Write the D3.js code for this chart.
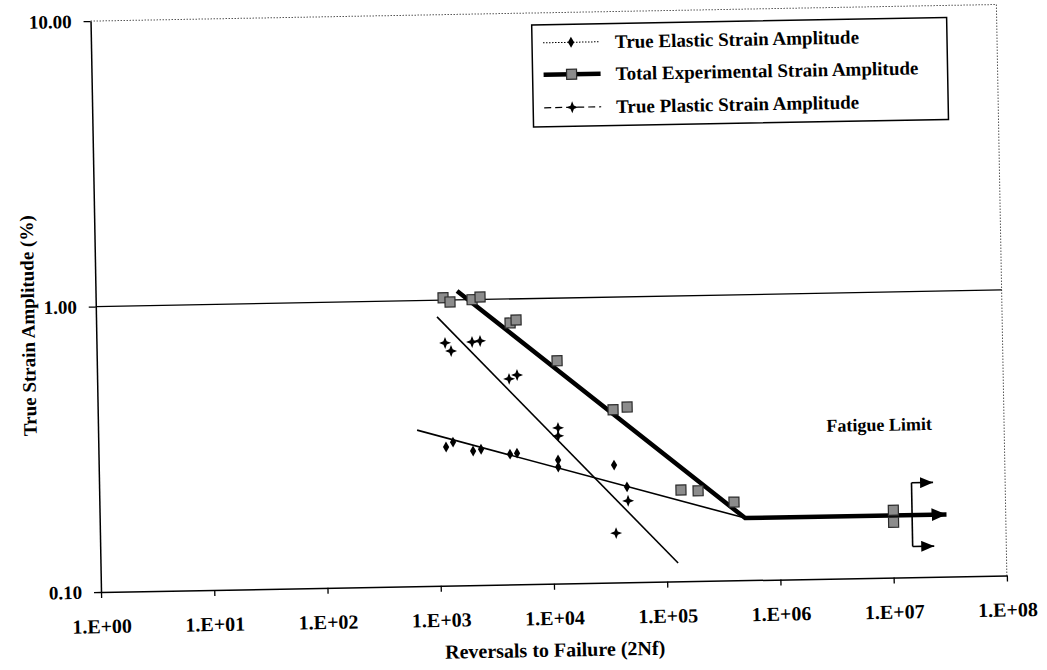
<!DOCTYPE html>
<html><head><meta charset="utf-8">
<script src="https://cdn.jsdelivr.net/npm/d3@7"></script>
<style>body{margin:0;background:#fff}svg{display:block}
svg text{font-family:"Liberation Serif","Times New Roman",Times,"DejaVu Serif","Noto Serif",serif !important;font-weight:bold;fill:#000}</style>
</head><body>
<svg id="c" width="1047" height="670"></svg>
<script>
// ---- data ----
const xTickValues = [1, 10, 100, 1e3, 1e4, 1e5, 1e6, 1e7, 1e8];
const xTickLabels = ["1.E+00","1.E+01","1.E+02","1.E+03","1.E+04","1.E+05","1.E+06","1.E+07","1.E+08"];
const yTickValues = [0.1, 1, 10];
const yTickLabels = ["0.10","1.00","10.00"];

const seriesNames = ["True Elastic Strain Amplitude","Total Experimental Strain Amplitude","True Plastic Strain Amplitude"];

const totalN = [1168,1343,2103,2478,4518,5110,11580,35500,47300,137000,194000,401000,1.02e7,1.02e7];
const totalS = [1.02,0.985,1.0,1.02,0.824,0.843,0.603,0.403,0.411,0.209,0.207,0.188,0.172,0.156];

const elasticN = [1175,1356,2032,2390,4300,4960,11400,11400,35500,45800];
const elasticS = [0.306,0.318,0.295,0.299,0.286,0.288,0.271,0.256,0.258,0.216];

const plasticN = [1197,1348,2073,2440,4340,5110,11530,11530,36100,46600];
const plasticS = [0.708,0.663,0.711,0.716,0.525,0.541,0.351,0.329,0.149,0.193];

const totalFitN = [1556, 5.0e5, 3.0e7];
const totalFitS = [1.075, 0.165, 0.165];
const elasticFitN = [656, 5.0e5];
const elasticFitS = [0.352, 0.165];
const plasticFitN = [1026, 125900];
const plasticFitS = [0.875, 0.116];

const runoutBracketN = 1.49e7;
const runoutArrowTipN = 2.31e7;
const runoutS = [0.214, 0.128];
const fatigueLabel = {text:"Fatigue Limit", n:7.9e6, s:0.343};

// ---- layout ----
const W = 906, H = 571;
const svg = d3.select("#c");
const defs = svg.append("defs");
function arrowMarker(id, len, wid){
  defs.append("marker").attr("id",id).attr("markerUnits","userSpaceOnUse")
    .attr("viewBox",`0 0 ${len} ${wid}`).attr("refX",len).attr("refY",wid/2)
    .attr("markerWidth",len).attr("markerHeight",wid).attr("orient","auto")
    .append("path").attr("d",`M0,0L${len},${wid/2}L0,${wid}Z`).attr("fill","#000");
}
arrowMarker("arrBig",15,13);
arrowMarker("arrSm",13,11);

const g = svg.append("g").attr("transform","rotate(-1.05,101,592) translate(101,21)");
const x = d3.scaleLog().domain([1,1e8]).range([0,W]);
const y = d3.scaleLog().domain([0.1,10]).range([H,0]);

// borders
g.append("line").attr("x1",0).attr("x2",W).attr("y1",0).attr("y2",0)
  .attr("stroke","#555").attr("stroke-width",1).attr("stroke-dasharray","1.5,1.5");
g.append("line").attr("x1",W).attr("x2",W).attr("y1",0).attr("y2",H)
  .attr("stroke","#555").attr("stroke-width",1).attr("stroke-dasharray","1.5,1.5");
// grid at 1.0
g.append("line").attr("x1",0).attr("x2",W).attr("y1",y(1)).attr("y2",y(1))
  .attr("stroke","#000").attr("stroke-width",1.3);

// axes
const xAxis = g.append("g").attr("transform",`translate(0,${H})`)
  .call(d3.axisBottom(x).tickValues(xTickValues).tickFormat((d,i)=>xTickLabels[i]).tickSize(6).tickSizeOuter(0).tickPadding(21));
const yAxis = g.append("g")
  .call(d3.axisLeft(y).tickValues(yTickValues).tickFormat((d,i)=>yTickLabels[i]).tickSize(7).tickSizeOuter(0).tickPadding(12));
[xAxis,yAxis].forEach(a=>{
  a.attr("font-family",null).attr("font-size",null);
  a.selectAll("path.domain").attr("stroke","#000").attr("stroke-width",1.5);
  a.selectAll(".tick line").attr("stroke","#000").attr("stroke-width",1.3);
});
xAxis.selectAll("text").style("font-size","20px");
yAxis.selectAll("text").style("font-size","19px");

// axis titles
g.append("text").attr("x",W/2).attr("y",H+73).attr("text-anchor","middle")
  .style("font-size","20px").text("Reversals to Failure (2Nf)");
g.append("text").attr("transform",`translate(-68,${H/2+18}) rotate(-90)`).attr("text-anchor","middle")
  .attr("dominant-baseline","central")
  .style("font-size","19px").text("True Strain Amplitude (%)");

// fit lines
const line = d3.line().x(d=>x(d[0])).y(d=>y(d[1]));
g.append("path").datum(elasticFitN.map((n,i)=>[n,elasticFitS[i]])).attr("d",line)
  .attr("fill","none").attr("stroke","#000").attr("stroke-width",1.6);
g.append("path").datum(plasticFitN.map((n,i)=>[n,plasticFitS[i]])).attr("d",line)
  .attr("fill","none").attr("stroke","#000").attr("stroke-width",1.6);
g.append("path").datum(totalFitN.map((n,i)=>[n,totalFitS[i]])).attr("d",line)
  .attr("fill","none").attr("stroke","#000").attr("stroke-width",4.5).attr("marker-end","url(#arrBig)");

// runout bracket
g.append("line").attr("x1",x(runoutBracketN)).attr("x2",x(runoutBracketN))
  .attr("y1",y(runoutS[0])).attr("y2",y(runoutS[1])).attr("stroke","#000").attr("stroke-width",1.6);
runoutS.forEach(s=>{
  g.append("line").attr("x1",x(runoutBracketN)).attr("x2",x(runoutArrowTipN))
    .attr("y1",y(s)).attr("y2",y(s)).attr("stroke","#000").attr("stroke-width",1.6).attr("marker-end","url(#arrSm)");
});

// symbols
const star4 = {draw(ctx,size){const r=Math.sqrt(size)/1.3, a=r*0.28;
  ctx.moveTo(0,-r);ctx.lineTo(a,-a);ctx.lineTo(r,0);ctx.lineTo(a,a);ctx.lineTo(0,r);ctx.lineTo(-a,a);ctx.lineTo(-r,0);ctx.lineTo(-a,-a);ctx.closePath();}};
const symSquare = d3.symbol().type(d3.symbolSquare).size(100);
const symDiamond = d3.symbol().type(d3.symbolDiamond).size(34);
const symStar = d3.symbol().type(star4).size(60);

g.selectAll(".el").data(elasticN.map((n,i)=>[n,elasticS[i]])).join("path")
  .attr("transform",d=>`translate(${x(d[0])},${y(d[1])})`).attr("d",symDiamond).attr("fill","#000");
g.selectAll(".pl").data(plasticN.map((n,i)=>[n,plasticS[i]])).join("path")
  .attr("transform",d=>`translate(${x(d[0])},${y(d[1])})`).attr("d",symStar).attr("fill","#000");
g.selectAll(".tt").data(totalN.map((n,i)=>[n,totalS[i]])).join("path")
  .attr("transform",d=>`translate(${x(d[0])},${y(d[1])})`).attr("d",symSquare)
  .attr("fill","#8c8c8c").attr("stroke","#2a2a2a").attr("stroke-width",1.2);

// fatigue label
g.append("text").attr("x",x(fatigueLabel.n)).attr("y",y(fatigueLabel.s)).attr("text-anchor","middle")
  .attr("dominant-baseline","central").style("font-size","18px")
  .text(fatigueLabel.text);

// legend
const lg = g.append("g").attr("transform","translate(441,12)");
lg.append("rect").attr("width",415).attr("height",102).attr("fill","#fff").attr("stroke","#000").attr("stroke-width",1.5);
const rows = [18, 50, 83];
lg.append("line").attr("x1",11).attr("x2",68).attr("y1",rows[0]).attr("y2",rows[0]).attr("stroke","#000").attr("stroke-width",1).attr("stroke-dasharray","1.5,1.5");
lg.append("path").attr("transform",`translate(39,${rows[0]})`).attr("d",symDiamond).attr("fill","#000");
lg.append("line").attr("x1",11).attr("x2",68).attr("y1",rows[1]).attr("y2",rows[1]).attr("stroke","#000").attr("stroke-width",4.5);
lg.append("path").attr("transform",`translate(39,${rows[1]})`).attr("d",symSquare).attr("fill","#8c8c8c").attr("stroke","#2a2a2a").attr("stroke-width",1.2);
lg.append("line").attr("x1",11).attr("x2",68).attr("y1",rows[2]).attr("y2",rows[2]).attr("stroke","#000").attr("stroke-width",1.2).attr("stroke-dasharray","7,4");
lg.append("path").attr("transform",`translate(39,${rows[2]})`).attr("d",symStar).attr("fill","#000");
seriesNames.forEach((t,i)=>{
  lg.append("text").attr("x",83).attr("y",rows[i]).attr("dominant-baseline","central")
    .style("font-size","19px").text(t);
});
</script>
</body></html>
